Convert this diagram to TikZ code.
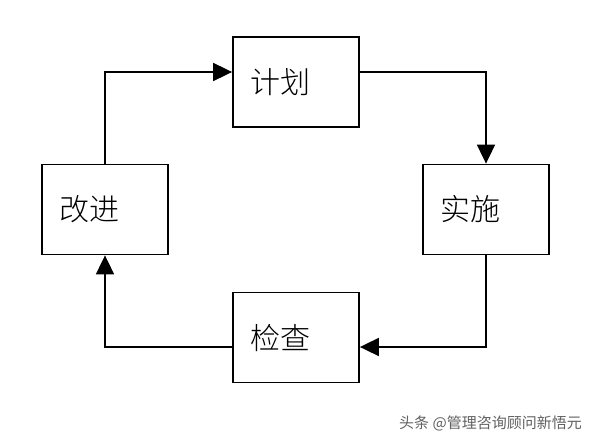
\documentclass[tikz,border=0pt]{standalone}
\usepackage{fontspec}
\newfontfamily\cjk{Noto Sans CJK SC}
\newfontfamily\cjklight{Noto Sans CJK SC Light}
\usetikzlibrary{arrows.meta}
\tikzset{
  box/.style={draw=black, line width=1.8pt, fill=white, minimum width=126pt, minimum height=90pt,
    text width=92pt, align=left, inner xsep=17pt, inner ysep=0pt, font=\cjklight\fontsize{30pt}{31pt}\selectfont},
  arr/.style={line width=1.8pt, -{Triangle[length=19pt,width=18pt]}},
  wm/.style={font=\cjk\fontsize{15pt}{16pt}\selectfont, text=black!62, inner sep=0pt}
}
\begin{document}
\begin{tikzpicture}[x=1pt,y=-1pt]
\useasboundingbox (0,0) rectangle (594,444);
\fill[white] (0,0) rectangle (594,444);
\node[box] (plan) at (296,82) {计划};
\node[box] (do) at (486,209.5) {实施};
\node[box] (check) at (296,337.5) {检查};
\node[box] (improve) at (105,209.5) {改进};
\draw[arr] (improve.north) |- ([yshift=10pt]plan.west);
\draw[arr] ([yshift=10pt]plan.east) -| (do.north);
\draw[arr] (do.south) |- ([yshift=-9.5pt]check.east);
\draw[arr] ([yshift=-9.5pt]check.west) -| (improve.south);
\node[wm, anchor=west] (mark) at (399,423) {头条 @管理咨询顾问新悟元};
\end{tikzpicture}
\end{document}
